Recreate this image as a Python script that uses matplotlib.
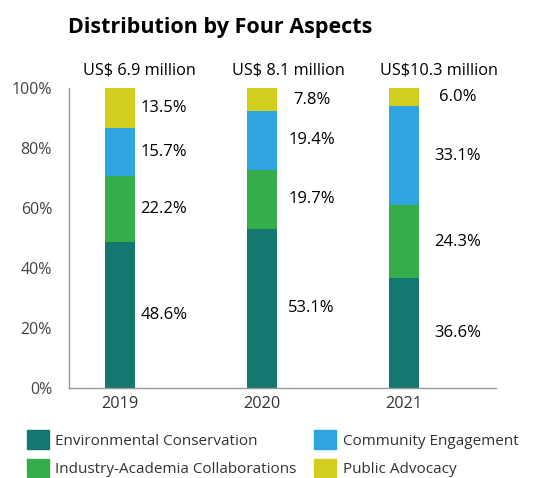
import numpy as np
import matplotlib
matplotlib.use('Agg')
import matplotlib.pyplot as plt
from matplotlib.patches import Patch

plt.rcParams['font.family'] = ['Open Sans', 'DejaVu Sans']

years = ['2019', '2020', '2021']
totals = ['US$ 6.9 million', 'US$ 8.1 million', 'US$10.3 million']
aspects = ['Environmental Conservation', 'Industry-Academia Collaborations',
           'Community Engagement', 'Public Advocacy']
env = [48.6, 53.1, 36.6]
ind = [22.2, 19.7, 24.3]
com = [15.7, 19.4, 33.1]
pub = [13.5, 7.8, 6.0]
colors = ['#157870', '#35AD4A', '#2FA4DE', '#D2CE1F']

fig = plt.figure(figsize=(5.33, 4.78), dpi=100)
ax = fig.add_axes([0.129, 0.188, 0.802, 0.628])

x = np.arange(len(years))
bar_w = 0.21
bottom = np.zeros(len(years))
lab_off = [0.31, 0.35, 0.38]
tot_off = [0.14, 0.19, 0.25]
for vals, c in zip([env, ind, com, pub], colors):
    vals = np.array(vals)
    ax.bar(x, vals, bar_w, bottom=bottom, color=c)
    for i in range(len(x)):
        ax.text(x[i] + lab_off[i], bottom[i] + vals[i] / 2,
                '%.1f%%' % vals[i], va='center', ha='center', fontsize=12)
    bottom += vals

for i in range(len(x)):
    ax.text(x[i] + tot_off[i], 103, totals[i], ha='center', va='bottom', fontsize=11.7)

ax.set_xlim(-0.36, 2.65)
ax.set_ylim(0, 100)
ax.set_yticks(np.arange(0, 101, 20))
ax.set_yticklabels(['%d%%' % v for v in range(0, 101, 20)], fontsize=11.5, color='#444444')
ax.set_xticks(x)
ax.set_xticklabels(years, fontsize=11.7, color='#333333')
ax.tick_params(length=0, pad=6)
ax.tick_params(axis='y', pad=12)
for s in ['top', 'right']:
    ax.spines[s].set_visible(False)
for s in ['left', 'bottom']:
    ax.spines[s].set_color('#999999')
    ax.spines[s].set_linewidth(1)

fig.text(0.128, 0.942, 'Distribution by Four Aspects', fontsize=15.5,
         fontweight='bold', ha='left', va='center')

handles = [Patch(color=c) for c in colors]
leg = fig.legend(handles, aspects, loc='lower left', bbox_to_anchor=(0.025, -0.026),
                 ncol=2, frameon=False, fontsize=11, handlelength=1.45,
                 handleheight=1.45, columnspacing=1.15, labelspacing=0.65,
                 handletextpad=0.4)
for t in leg.get_texts():
    t.set_color('#333333')

plt.savefig('out.png')
